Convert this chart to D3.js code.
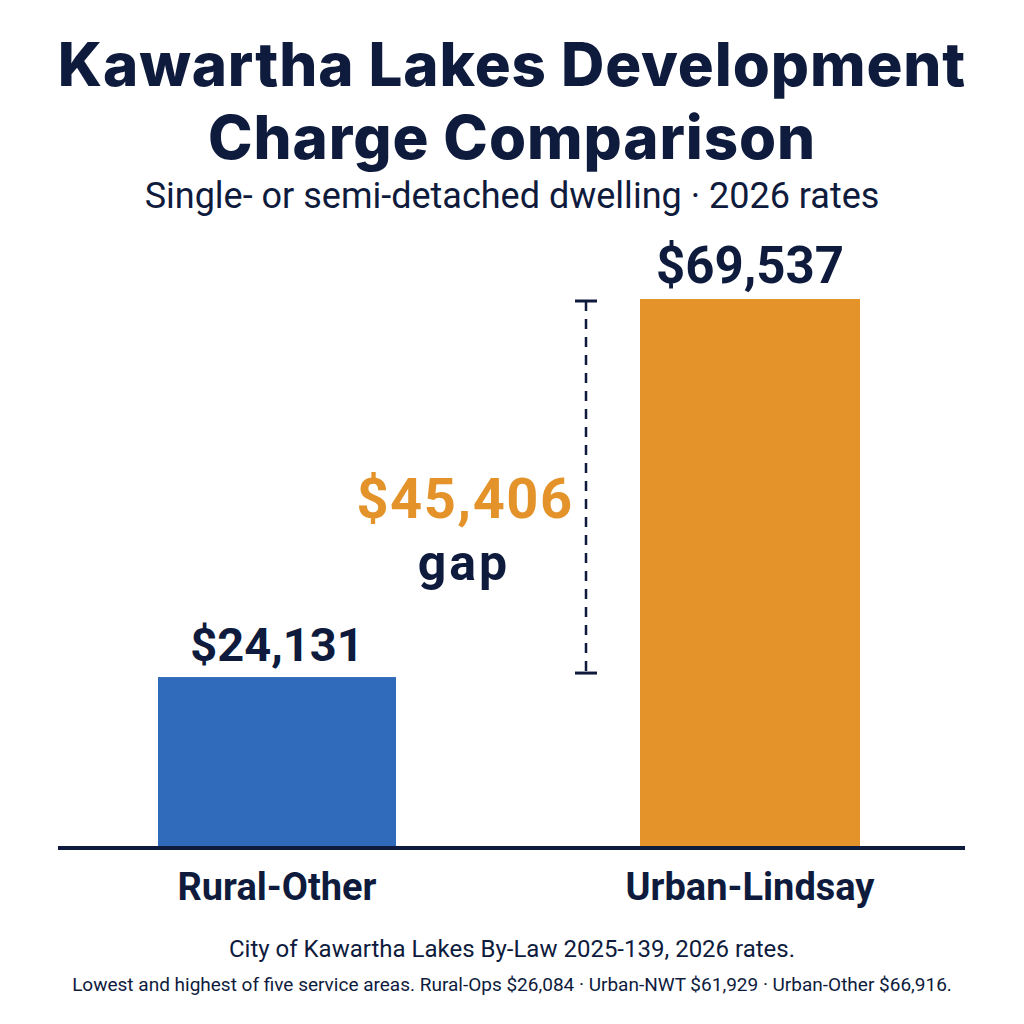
<!DOCTYPE html>
<html><head><meta charset="utf-8">
<script src="https://cdn.jsdelivr.net/npm/d3@7"></script>
<style>body{margin:0;background:#fff}svg{display:block}</style>
</head><body>
<svg id="c" width="1024" height="1024"></svg>
<script>
const categories = ["Rural-Other", "Urban-Lindsay"];
const values = [24131, 69537];
const gapValue = 45406;
const titleLines = ["Kawartha Lakes Development", "Charge Comparison"];
const subtitle = "Single- or semi-detached dwelling \u00b7 2026 rates";
const footerLines = ["City of Kawartha Lakes By-Law 2025-139, 2026 rates.",
  "Lowest and highest of five service areas. Rural-Ops $26,084 \u00b7 Urban-NWT $61,929 \u00b7 Urban-Other $66,916."];

const navy = "#0e1b3d", blue = "#2f6bba", orange = "#e3932a";
const svg = d3.select("#c");
const fmt = d3.format("$,");

svg.append("rect").attr("width",1024).attr("height",1024).attr("fill","#fff");

svg.selectAll("text.title").data(titleLines).join("text").attr("class","title")
  .attr("x",512).attr("y",(d,i)=>86+i*73).attr("text-anchor","middle")
  .attr("font-family","Inter, Roboto, sans-serif").attr("font-weight",800)
  .attr("font-size",60).attr("fill",navy).attr("letter-spacing",0.9).text(d=>d);

svg.append("text").attr("x",512).attr("y",208).attr("text-anchor","middle")
  .attr("font-family","Roboto, sans-serif").attr("font-size",36).attr("fill",navy).text(subtitle);

const y = d3.scaleLinear().domain([3600, 69537]).range([848, 299]);

const bx = d3.scaleOrdinal().domain(categories).range([158, 640]);
const bw = d3.scaleOrdinal().domain(categories).range([238, 220]);
const colors = d3.scaleOrdinal().domain(categories).range([blue, orange]);

svg.selectAll("rect.bar").data(categories).join("rect")
  .attr("x",d=>bx(d)).attr("width",d=>bw(d))
  .attr("y",(d,i)=>y(values[i])).attr("height",(d,i)=>848-y(values[i]))
  .attr("fill",d=>colors(d));

svg.selectAll("text.val").data(categories).join("text").attr("class","val")
  .attr("x",d=>bx(d)+bw(d)/2).attr("y",(d,i)=>y(values[i])-16)
  .attr("text-anchor","middle").attr("font-family","Roboto, sans-serif").attr("font-weight",700)
  .attr("font-size",(d,i)=>i?51:47).attr("fill",navy).text((d,i)=>fmt(values[i]));

svg.append("line").attr("x1",58).attr("x2",965).attr("y1",848).attr("y2",848)
  .attr("stroke",navy).attr("stroke-width",4);

svg.selectAll("text.cat").data(categories).join("text").attr("class","cat")
  .attr("x",d=>bx(d)+bw(d)/2).attr("y",900)
  .attr("text-anchor","middle").attr("font-family","Roboto, sans-serif").attr("font-weight",700)
  .attr("font-size",38).attr("fill",navy).text(d=>d);

// gap bracket
const gx = 586, yTop = y(values[1])+2, yBot = y(values[0])-4;
svg.append("line").attr("x1",gx).attr("x2",gx).attr("y1",yTop).attr("y2",yBot)
  .attr("stroke",navy).attr("stroke-width",2.5).attr("stroke-dasharray","10,8");
[yTop,yBot].forEach(yy=>svg.append("line").attr("x1",gx-11).attr("x2",gx+11).attr("y1",yy).attr("y2",yy)
  .attr("stroke",navy).attr("stroke-width",3));

svg.append("text").attr("x",465).attr("y",518).attr("text-anchor","middle")
  .attr("font-family","Roboto, sans-serif").attr("font-weight",700).attr("font-size",56)
  .attr("letter-spacing",1.5).attr("fill",orange).text(fmt(gapValue));
svg.append("text").attr("x",464).attr("y",580).attr("text-anchor","middle")
  .attr("font-family","Roboto, sans-serif").attr("font-weight",700).attr("font-size",50)
  .attr("letter-spacing",3).attr("fill",navy).text("gap");

svg.append("text").attr("x",512).attr("y",957).attr("text-anchor","middle")
  .attr("font-family","Roboto, sans-serif").attr("font-size",24).attr("fill",navy).text(footerLines[0]);
svg.append("text").attr("x",512).attr("y",991).attr("text-anchor","middle")
  .attr("font-family","Roboto, sans-serif").attr("font-size",19).attr("fill",navy).text(footerLines[1]);
</script>
</body></html>
